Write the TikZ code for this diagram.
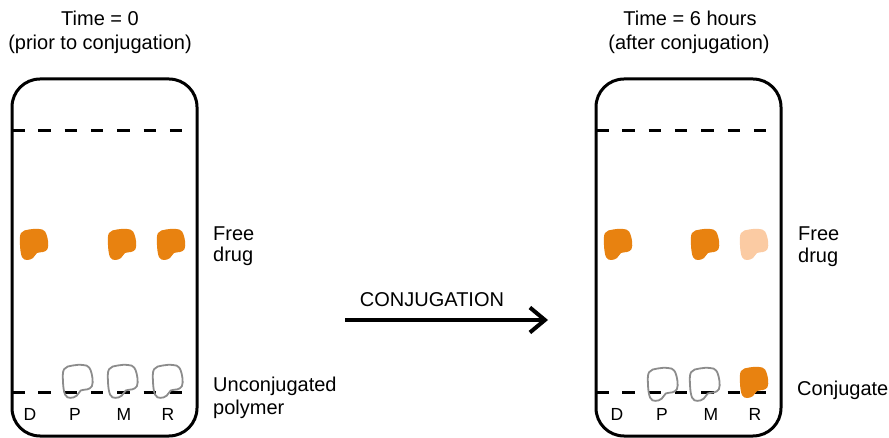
\documentclass[tikz,border=0pt]{standalone}
\usepackage{fontspec}
\setmainfont{Liberation Sans}
\usetikzlibrary{arrows.meta}
\definecolor{drug}{RGB}{232,130,16}
\definecolor{drugpale}{RGB}{251,203,163}
\definecolor{poly}{RGB}{140,140,140}
\tikzset{
  plate/.style={draw, line width=3pt, rounded corners=28pt, minimum width=185pt, minimum height=357pt, inner sep=0pt},
  solvent/.style={line width=3pt, dash pattern=on 12.5pt off 13.8pt},
  lbl/.style={font=\fontsize{20}{23}\selectfont, inner sep=0pt, anchor=base west},
  ttl/.style={font=\fontsize{20}{23}\selectfont, inner sep=0pt, anchor=base},
  lane/.style={font=\fontsize{17.5}{20}\selectfont, inner sep=0pt, anchor=base},
  blob/.pic={\path[pic actions] plot[smooth cycle, tension=0.65] coordinates {(1,4) (9,0.5) (19,0) (25,2.5) (28,12) (27.5,20) (23,23) (17,24) (13,29) (7,31) (2,28) (0,16)};},
  spot/.style={fill=drug},
  palespot/.style={fill=drugpale},
  polyring/.style={draw=poly, line width=1.8pt, xscale=1.05, yscale=1.06},
}
\begin{document}
\begin{tikzpicture}[x=1pt,y=-1pt]
\useasboundingbox (0,0) rectangle (889,438);
% titles
\node[ttl] (t1a) at (100,26) {Time = 0};
\node[ttl] (t1b) at (100,50) {(prior to conjugation)};
\node[ttl] (t2a) at (690,26) {Time = 6 hours};
\node[ttl] (t2b) at (689,50) {(after conjugation)};
% plates
\node[plate] (plateL) at (104.5,257.5) {};
\node[plate] (plateR) at (688.5,257.5) {};
% solvent front and origin lines
\draw[solvent] (12,131) -- (185,131);
\draw[solvent] (12,392) -- (185,392);
\draw[solvent] (596,131) -- (769,131);
\draw[solvent] (596,392) -- (769,392);
% left plate spots
\pic[spot] at (20,229) {blob};
\pic[spot] at (108,229) {blob};
\pic[spot] at (157,229) {blob};
\pic[polyring] at (63,365) {blob};
\pic[polyring] at (108,365) {blob};
\pic[polyring] at (153,365) {blob};
% right plate spots
\pic[spot] at (604,229) {blob};
\pic[spot] at (691,229) {blob};
\pic[palespot] at (740,229) {blob};
\pic[polyring] at (648,368) {blob};
\pic[polyring] at (690,368) {blob};
\pic[spot] at (740,367) {blob};
% lane letters
\node[lane] (dL) at (30,420) {D};
\node[lane] (pL) at (75,420) {P};
\node[lane] (mL) at (124,420) {M};
\node[lane] (rL) at (168,420) {R};
\node[lane] (dR) at (617,420) {D};
\node[lane] (pR) at (662,420) {P};
\node[lane] (mR) at (711,420) {M};
\node[lane] (rR) at (755,420) {R};
% side labels
\node[lbl] (fd1) at (213,241) {Free};
\node[lbl] (fd2) at (213,262) {drug};
\node[lbl] (up1) at (213,391) {Unconjugated};
\node[lbl] (up2) at (213,414) {polymer};
\node[lbl] (fd3) at (798,241) {Free};
\node[lbl] (fd4) at (798,263) {drug};
\node[lbl] (cj) at (797,395) {Conjugate};
% arrow
\node[ttl] (conj) at (432,307) {CONJUGATION};
\coordinate (arrS) at (345,320);
\coordinate (arrE) at (548,320);
\draw[line width=4pt, -{Straight Barb[length=15pt,width=25pt]}] (arrS) -- (arrE);
\end{tikzpicture}
\end{document}
